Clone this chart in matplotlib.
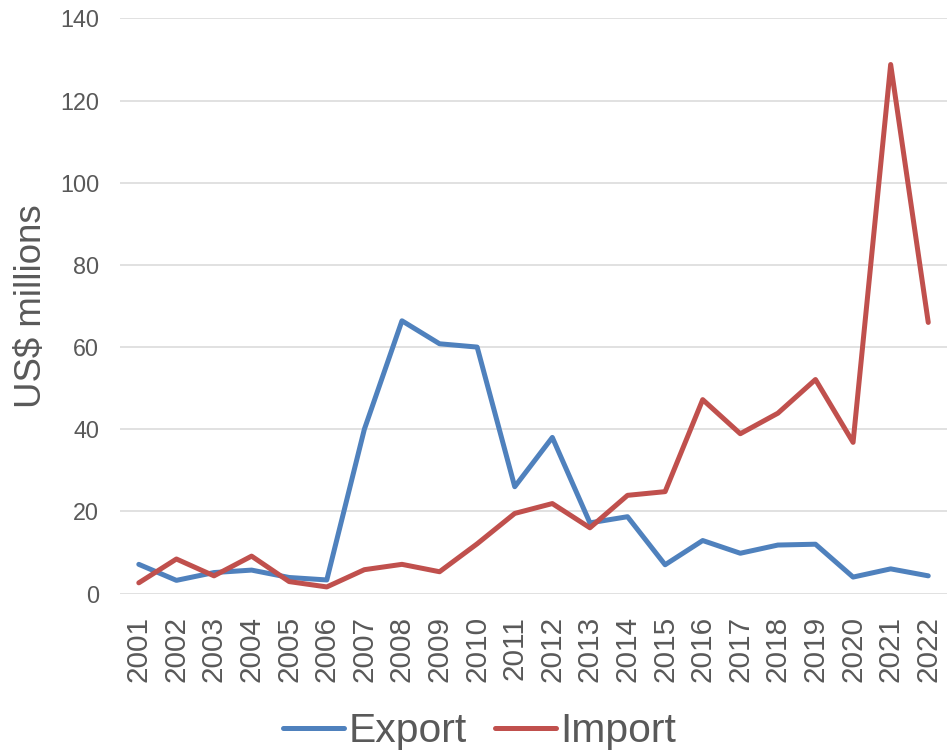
import matplotlib.pyplot as plt

plt.rcParams['font.family'] = ['Liberation Sans', 'DejaVu Sans']

years = [str(y) for y in range(2001, 2023)]
export = [7.1, 3.2, 5.1, 5.7, 3.9, 3.3, 40.0, 66.4, 60.8, 60.0, 26.0, 38.0,
          17.2, 18.7, 7.0, 12.9, 9.8, 11.8, 12.0, 4.0, 6.0, 4.3]
imports = [2.6, 8.4, 4.3, 9.1, 2.9, 1.6, 5.8, 7.1, 5.3, 12.1, 19.5, 21.9,
           16.0, 23.9, 24.8, 47.2, 38.9, 43.9, 52.1, 36.8, 128.8, 66.0]

grey = '#595959'

fig = plt.figure(figsize=(9.48, 7.55), dpi=100)
ax = fig.add_axes([0.1266, 0.2139, 0.8724, 0.7616])

x = range(len(years))
ax.plot(x, export, color='#4F81BD', linewidth=3.6, label='Export',
        solid_joinstyle='round', solid_capstyle='round', zorder=3)
ax.plot(x, imports, color='#C0504D', linewidth=3.6, label='Import',
        solid_joinstyle='round', solid_capstyle='round', zorder=3)

ax.set_xlim(-0.5, len(years) - 0.5)
ax.set_ylim(0, 140)
ax.set_yticks(range(0, 141, 20))
ax.set_xticks(list(x))
ax.set_xticklabels(years, rotation=90)
ax.tick_params(axis='both', length=0, colors=grey)
ax.tick_params(axis='y', labelsize=16.8, pad=15)
ax.tick_params(axis='x', labelsize=21.4, pad=16)
ax.grid(axis='y', color='#D9D9D9', linewidth=1.1)
ax.set_axisbelow(True)
for s in ax.spines.values():
    s.set_visible(False)

ax.set_ylabel('US$ millions', fontsize=26.4, color=grey, labelpad=8)

fig.legend(loc='center', bbox_to_anchor=(0.506, 0.032), ncol=2, frameon=False,
           fontsize=29.4, labelcolor=grey, handlelength=1.5, handletextpad=0.1,
           columnspacing=0.7)

fig.savefig('out.png', dpi=100)
